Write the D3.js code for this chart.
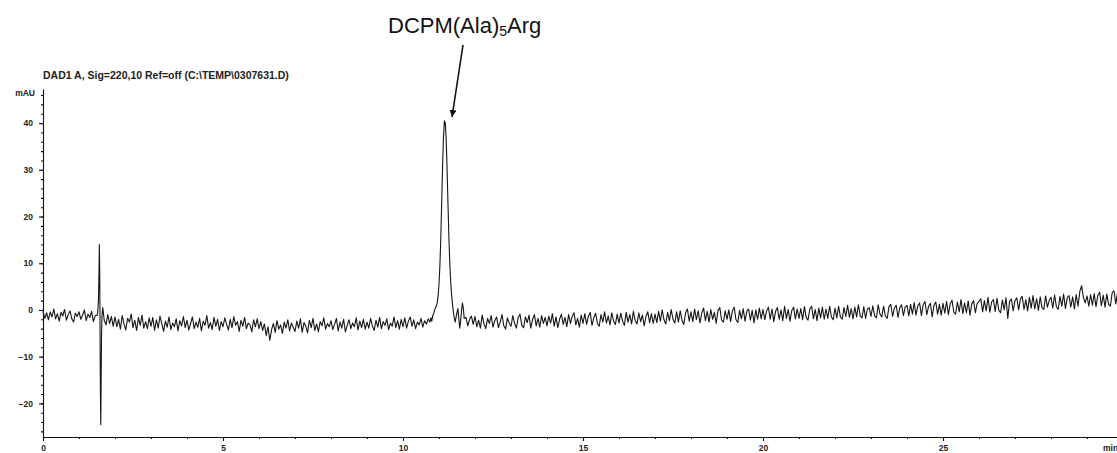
<!DOCTYPE html>
<html>
<head>
<meta charset="utf-8">
<script src="https://cdn.jsdelivr.net/npm/d3@7"></script>
<style>
  body { margin: 0; background: #fff; }
  svg { display: block; }
</style>
</head>
<body>
<div id="chart"></div>
<script>
var sampleStep = 0.05;

// 0.00 - 1.45 min
var traceA = [-0.3,-1.8,-0.6,-2.1,-0.4,-1.5,0.2,-1.9,-0.8,-2.4,-0.5,-1.3,0.1,-2.2,-1.0,-0.2,-1.9,-2.6,-0.7,-1.4,
  -0.4,-2.0,-1.1,0.0,-2.3,-0.9,-1.6,-0.3,-2.5,-1.2];

// injection spike [min, mAU]
var spikePoints = [[1.50,-1.2],[1.52,-0.5],[1.54,2],[1.555,8],[1.565,14],[1.575,9],[1.585,-5],[1.595,-18],
  [1.605,-24.5],[1.615,-15],[1.625,-6],[1.64,-1],[1.66,0.5],[1.68,-0.8],[1.70,-2.2]];

// 1.75 - 10.70 min
var traceB = [-3.2,-1.0,-2.9,-1.4,-3.5,
  -1.5,-3.6,-2.0,-4.1,-1.2,-3.0,-4.3,-1.8,-2.6,-0.9,-3.8,-2.2,-4.4,-1.6,-3.3,-1.1,-3.9,-2.5,-4.0,-1.7,
  -3.5,-1.6,-4.4,-2.1,-3.9,-1.3,-3.0,-4.6,-2.4,-3.7,-1.5,-4.2,-2.8,-3.6,-1.9,-4.5,-2.3,-3.4,-1.4,-3.8,
  -2.2,-4.3,-2.9,-1.5,-4.0,-2.6,-3.7,-1.8,-4.5,-2.4,-3.3,-1.2,-3.9,-2.7,-4.2,-1.6,-3.5,-2.0,-4.4,-2.5,
  -3.6,-1.7,-3.1,-4.3,-2.0,-3.8,-1.4,-3.3,-2.5,-4.6,-2.2,-3.5,-1.6,-4.0,-2.8,-3.2,-4.7,-2.1,-3.6,-1.9,
  -4.0,-2.5,-4.4,-3.0,-5.5,-3.6,-6.5,-4.2,-2.9,-4.8,-2.3,-4.1,-3.2,-5.0,-2.6,-3.9,-2.1,-4.5,-2.8,-3.7,
  -4.6,-2.4,-3.9,-1.9,-4.8,-2.7,-3.5,-4.9,-2.2,-3.8,-1.8,-4.4,-3.0,-4.7,-2.5,-3.4,-1.7,-4.1,-2.9,-3.6,
  -2.3,-4.2,-3.1,-1.8,-4.5,-2.6,-3.9,-2.0,-4.7,-3.3,-2.1,-4.0,-2.8,-3.6,-1.7,-4.3,-2.4,-3.8,-2.0,-4.1,
  -2.6,-3.9,-1.8,-3.4,-4.4,-2.2,-3.7,-1.6,-4.0,-2.5,-3.3,-1.9,-4.2,-2.8,-3.5,-1.5,-3.8,-2.3,-4.1,-2.0,
  -3.6,-1.7,-3.9,-2.4,-1.5,-3.5,-2.1,-4.0,-2.6,-3.2,-1.8,-3.7,-2.3,-3.0,-1.9];

// DCPM(Ala)5Arg peak [min, mAU]
var peakPoints = [[10.75,-2.6],[10.775,-1.7],[10.80,-2.4],[10.825,-1.2],[10.85,-0.9],[10.875,-0.1],[10.90,0.4],
  [10.925,0.9],[10.95,1.5],[10.975,3.0],[11.00,5.5],[11.025,9.5],[11.05,15.5],[11.075,23.0],[11.10,31.0],
  [11.125,37.0],[11.15,40.5],[11.165,39.6],[11.175,40.1],[11.20,36.5],[11.225,30.0],[11.25,22.5],[11.275,15.5],
  [11.30,10.0],[11.325,6.0],[11.35,3.2],[11.375,1.2],[11.40,-0.5],[11.425,-1.8],[11.45,-2.6],[11.475,-1.5],
  [11.50,-0.5],[11.525,0.3],[11.55,-1.8],[11.575,-3.9],[11.60,-2.5],[11.625,-0.2],[11.65,1.5],[11.675,0.4],[11.70,-1.8]];

// 11.75 - 30.00 min
var traceC = [-1.6,-3.4,-2.0,-1.3,-3.1,
  -1.4,-3.6,-2.2,-3.9,-1.1,-3.0,-4.0,-1.8,-2.9,-1.2,-3.7,-2.3,-1.5,-3.8,-2.6,-1.0,-3.4,-4.1,-1.7,-2.8,
  -3.5,-1.2,-2.9,-3.9,-1.6,-0.9,-3.3,-3.8,-1.5,-2.7,-1.1,-3.9,-2.0,-1.0,-3.4,-1.8,-3.7,-1.2,-2.9,-1.6,
  -3.4,-1.3,-2.8,-0.8,-3.5,-1.5,-3.8,-2.0,-0.9,-3.1,-1.6,-3.6,-1.0,-2.9,-1.4,-0.6,-3.2,-1.8,-3.7,-1.1,
  -2.9,-0.8,-3.1,-1.4,-0.5,-3.3,-1.7,-0.7,-2.9,-3.5,-1.0,-2.6,-0.4,-2.8,-1.3,-3.2,-0.6,-2.4,-3.1,-0.9,
  -2.8,-0.7,-2.4,-3.3,-0.5,-2.6,-1.0,-3.0,-0.3,-2.3,-3.0,-0.6,-2.5,-1.1,-3.4,-1.4,-0.4,-2.7,-0.8,-2.9,
  -0.9,-2.7,-0.3,-2.4,0.0,-2.1,-3.0,-0.5,-2.3,0.1,-2.0,-2.8,-0.4,-2.6,-0.2,-2.2,-3.1,-0.6,0.2,-2.4,
  -0.4,-2.5,0.2,-2.1,-0.2,-2.8,-0.6,0.4,-2.3,-0.3,-2.6,0.1,-2.0,-0.5,-2.9,-0.1,0.5,-2.2,-2.6,-0.2,
  -2.0,0.0,-2.5,-0.2,0.6,-2.1,-2.7,-0.1,-1.9,0.3,-2.4,-0.3,0.2,-2.2,-0.1,-2.8,0.0,-2.0,0.4,-1.9,
  0.1,-2.1,-0.2,0.6,-2.0,0.2,-2.5,-0.3,0.5,-2.0,0.0,-2.3,0.8,-1.8,0.1,-2.4,-0.1,0.6,-1.9,0.2,
  -1.8,0.3,-2.1,0.7,-1.6,-2.2,0.2,0.8,-1.9,0.1,-2.3,0.4,-1.7,0.6,-2.0,0.2,-1.8,0.8,-1.5,-2.1,
  0.4,-1.7,0.8,-1.5,-2.0,0.5,-1.4,1.0,-1.6,0.3,-1.9,0.6,-1.5,1.1,-1.2,-1.7,0.7,-1.8,0.2,0.5,
  -1.4,0.9,-1.2,-1.7,1.1,-0.9,-1.5,0.8,-1.3,-1.8,0.7,1.2,-1.4,0.4,1.0,-1.6,0.5,1.1,-1.2,0.6,
  1.0,-1.3,1.2,-0.9,1.6,-1.1,0.9,1.5,-1.2,1.1,1.8,-1.0,0.8,1.4,-1.5,1.0,1.7,-0.9,1.2,-1.1,
  1.4,-0.7,1.8,-1.0,1.3,2.1,-0.5,-0.9,1.7,-0.4,2.2,-0.8,1.5,-0.6,1.9,-1.1,1.3,2.0,-0.6,1.4,
  1.8,2.4,-0.4,2.0,-0.2,2.7,-0.5,1.7,2.2,-0.3,2.5,-0.1,-0.6,2.1,0.0,2.6,-1.8,1.9,2.3,-0.2,
  2.0,2.6,0.0,2.3,2.9,0.1,2.2,-0.2,2.7,0.4,3.1,0.2,2.4,-0.1,2.8,0.5,0.1,3.0,0.6,2.0,
  2.7,0.4,3.2,0.7,0.1,2.9,0.8,3.4,0.3,2.6,3.1,0.6,2.8,0.2,3.3,0.8,3.9,5.2,2.7,1.5,
  3.0,0.8,3.3,1.0,3.5,0.7,3.1,3.8,0.9,3.2,0.6,3.4,1.2,0.8,3.7,4.1,1.3,3.9,1.6,3.5,
  2.4];

// axis ticks
var xMajorTicks = [0, 5, 10, 15, 20, 25];
var yMajorTicks = [-20, -10, 0, 10, 20, 30, 40];

var titleText = "DAD1 A, Sig=220,10 Ref=off (C:\\TEMP\\0307631.D)";

var svgWidth = 1117;
var svgHeight = 453;

var svg = d3.select("#chart")
  .append("svg")
  .attr("width", svgWidth)
  .attr("height", svgHeight);

// scales (axis runs past the right edge to 30 min)
var xScale = d3.scaleLinear().domain([0, 30]).range([43, 1123]);
var yScale = d3.scaleLinear().domain([-27.2, 47.3]).range([437, 89]);

// join the pieces of the trace
function toPoints(start, values) {
  return values.map(function(v, i) { return [start + i * sampleStep, v]; });
}
var trace = [].concat(
  toPoints(0, traceA), spikePoints,
  toPoints(1.75, traceB), peakPoints,
  toPoints(11.75, traceC));

var tickFont = "'Liberation Sans', Arial, sans-serif";

// minor ticks
svg.append("g")
  .attr("transform", "translate(43,0)")
  .call(d3.axisLeft(yScale).tickValues(d3.range(-26, 47, 2)).tickSize(2).tickFormat(""))
  .call(g => g.select(".domain").remove());
svg.append("g")
  .attr("transform", "translate(0,437)")
  .call(d3.axisBottom(xScale).tickValues(d3.range(0, 31, 1)).tickSize(2).tickFormat(""))
  .call(g => g.select(".domain").remove());

// y axis
var yAxis = svg.append("g")
  .attr("transform", "translate(43,0)")
  .call(d3.axisLeft(yScale).tickValues(yMajorTicks).tickSize(4).tickSizeOuter(0).tickPadding(6));

// x axis
var xAxis = svg.append("g")
  .attr("transform", "translate(0,437)")
  .call(d3.axisBottom(xScale).tickValues(xMajorTicks).tickSize(4).tickSizeOuter(0).tickPadding(4));

svg.selectAll(".tick line, .domain").attr("stroke", "#111").attr("stroke-width", 1.1);
svg.selectAll(".tick text")
  .attr("font-family", tickFont)
  .attr("font-weight", "bold")
  .attr("font-size", 8.5)
  .attr("fill", "#222");

// unit labels
svg.append("text")
  .attr("x", 35).attr("y", 96)
  .attr("text-anchor", "end")
  .attr("font-family", tickFont).attr("font-weight", "bold").attr("font-size", 8.5)
  .attr("fill", "#222")
  .text("mAU");
svg.append("text")
  .attr("x", 1103).attr("y", 451)
  .attr("font-family", tickFont).attr("font-weight", "bold").attr("font-size", 8.5)
  .attr("fill", "#222")
  .text("min");

// signal title
svg.append("text")
  .attr("x", 43).attr("y", 78.5)
  .attr("font-family", tickFont).attr("font-weight", "bold").attr("font-size", 10.5)
  .attr("fill", "#222")
  .text(titleText);

// the chromatogram
var line = d3.line()
  .x(d => xScale(d[0]))
  .y(d => yScale(d[1]));

svg.append("path")
  .datum(trace)
  .attr("fill", "none")
  .attr("stroke", "#151515")
  .attr("stroke-width", 1.1)
  .attr("stroke-linejoin", "round")
  .attr("d", line);

// peak annotation
svg.append("defs").append("marker")
  .attr("id", "arrowhead")
  .attr("viewBox", "0 0 10 10")
  .attr("refX", 10).attr("refY", 5)
  .attr("markerWidth", 7).attr("markerHeight", 7)
  .attr("markerUnits", "userSpaceOnUse")
  .attr("orient", "auto")
  .append("path")
  .attr("d", "M0,0 L10,5 L0,10 Z")
  .attr("fill", "#111");

svg.append("line")
  .attr("x1", 463).attr("y1", 45)
  .attr("x2", 452).attr("y2", 117)
  .attr("stroke", "#111")
  .attr("stroke-width", 1.6)
  .attr("marker-end", "url(#arrowhead)");

var label = svg.append("text")
  .attr("x", 388).attr("y", 33)
  .attr("font-family", tickFont)
  .attr("font-size", 22)
  .attr("fill", "#111");
label.append("tspan").text("DCPM(Ala)");
label.append("tspan").attr("font-size", 14).attr("dy", 3).text("5");
label.append("tspan").attr("dy", -3).text("Arg");
</script>
</body>
</html>
